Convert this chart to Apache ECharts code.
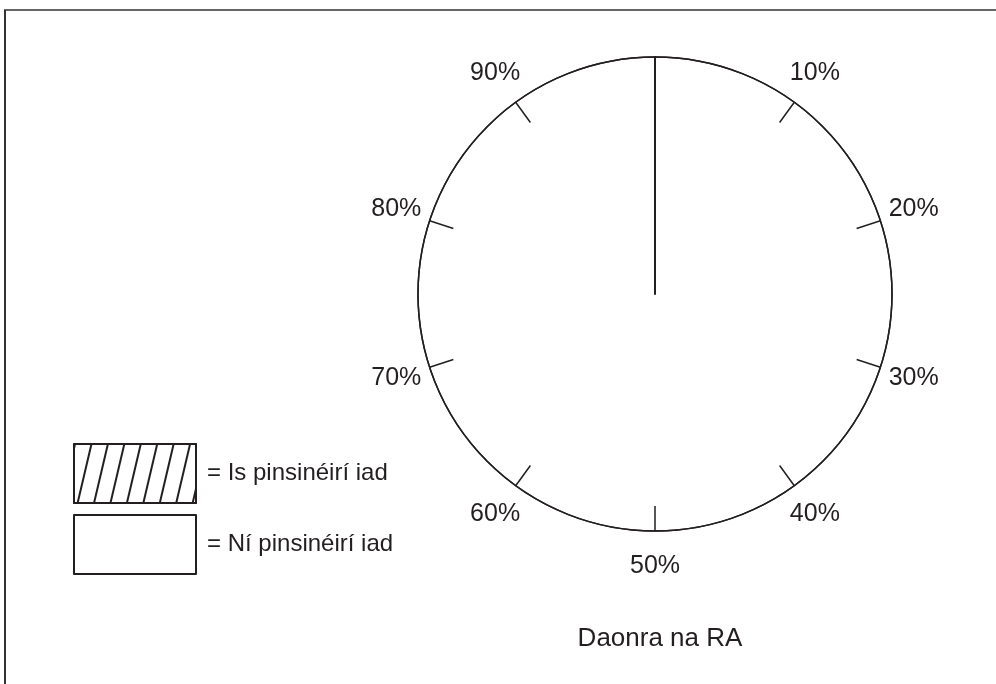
<!DOCTYPE html>
<html>
<head>
<meta charset="utf-8">
<script src="https://cdn.jsdelivr.net/npm/echarts@6/dist/echarts.min.js"></script>
<style>
  html, body { margin: 0; padding: 0; background: #fff; }
  #chart { width: 996px; height: 684px; }
</style>
</head>
<body>
<div id="chart"></div>
<script>
// share of the UK population (percent)
const categories = ["Is pinsinéirí iad", "Ní pinsinéirí iad"];
const shares = [0, 100];
// scale round the circle
const tickValues = [0, 10, 20, 30, 40, 50, 60, 70, 80, 90, 100];
const tickLabels = ["", "10%", "20%", "30%", "40%", "50%", "60%", "70%", "80%", "90%", ""];
const title = "Daonra na RA";

const ink = "#231f20";
const font = "Liberation Sans, Arial, Helvetica, sans-serif";
const center = [655, 294];
const radius = 237;

const chart = echarts.init(document.getElementById("chart"), null, { renderer: "canvas" });

chart.setOption({
  animation: false,
  title: {
    text: title,
    left: center[0],
    top: 621,
    textAlign: "center",
    textStyle: { color: ink, fontSize: 26, fontWeight: "normal", fontFamily: font },
  },
  legend: {
    orient: "vertical",
    left: 73,
    top: 443,
    padding: 0,
    itemWidth: 122,
    itemHeight: 59,
    itemGap: 10,
    icon: "rect",
    selectedMode: false,
    data: categories,
    formatter: (name) => "= " + name,
    textStyle: { color: ink, fontSize: 24, fontFamily: font, padding: [0, 0, 0, 6] },
  },
  polar: { center: center, radius: radius },
  angleAxis: {
    type: "value",
    min: tickValues[0],
    max: tickValues[tickValues.length - 1],
    interval: 10,
    startAngle: 90,
    clockwise: true,
    z: 5,
    axisLine: { show: true, lineStyle: { color: ink, width: 1.5 } },
    axisTick: { show: true, inside: true, length: 25, lineStyle: { color: ink, width: 1.5 } },
    splitLine: { show: false },
    axisLabel: {
      margin: 35,
      width: 0,
      // centre each label on its anchor point
      formatter: (v) => "{t|" + tickLabels[tickValues.indexOf(v)] + "}",
      rich: {
        t: { align: "center", lineHeight: 1, fontSize: 25, color: ink, fontFamily: font },
      },
    },
  },
  radiusAxis: {
    type: "value",
    min: 0,
    max: 100,
    z: 5,
    axisLine: { show: true, lineStyle: { color: ink, width: 2 } },
    axisTick: { show: false },
    axisLabel: { show: false },
    splitLine: { show: false },
  },
  series: [
    {
      type: "pie",
      center: center,
      radius: radius,
      startAngle: 90,
      clockwise: true,
      z: 1,
      silent: true,
      label: { show: false },
      labelLine: { show: false },
      data: categories.map((name, i) => ({
        name: name,
        value: shares[i],
        itemStyle:
          i === 0
            ? {
                color: "#fff",
                borderColor: ink,
                borderWidth: 1.5,
                decal: {
                  symbol: "rect",
                  symbolSize: 1,
                  dashArrayX: [1, 0],
                  dashArrayY: [1.5, 14],
                  rotation: -1.34,
                  color: ink,
                },
              }
            : { color: "#fff", borderColor: ink, borderWidth: 1.5 },
      })),
    },
  ],
  graphic: [
    { type: "line", shape: { x1: 4, y1: 10, x2: 996, y2: 10 }, style: { stroke: "#666", lineWidth: 2 } },
    { type: "line", shape: { x1: 5, y1: 10, x2: 5, y2: 684 }, style: { stroke: "#333", lineWidth: 2 } },
  ],
});
</script>
</body>
</html>
